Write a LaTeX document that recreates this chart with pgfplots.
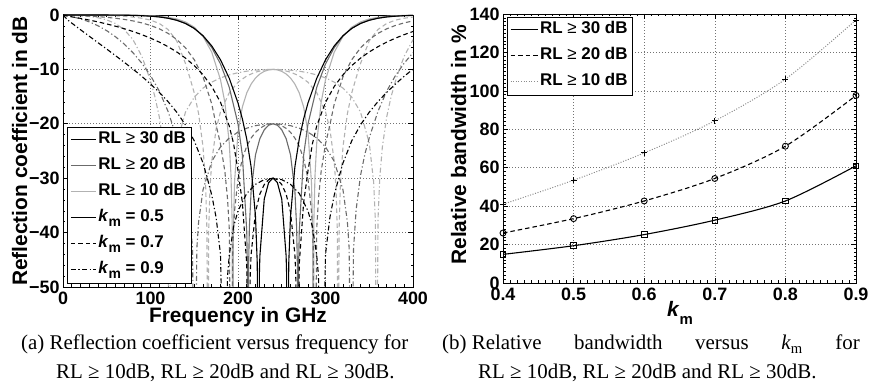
\documentclass[border=0pt]{standalone}
\usepackage{fontspec}
\setmainfont{Liberation Serif}
\newfontfamily\ar{Liberation Sans}
\usepackage{pgfplots}
\pgfplotsset{compat=1.18}
\definecolor{dg}{gray}{0.42}
\definecolor{lg}{gray}{0.70}
\definecolor{dotg}{gray}{0.55}
\pgfplotsset{
  mstyle/.style={
    scale only axis,
    axis line style={line width=0.8bp},
    tick align=inside, major tick length=5bp, minor tick length=2.5bp,
    every tick/.style={black,line width=0.6bp},
    grid=major,
    grid style={black!55, line width=0.6bp, dash pattern=on 1bp off 2bp},
    /pgf/number format/assume math mode=true,
    tick label style={font=\ar\bfseries\fontsize{18}{20}\selectfont},
    xticklabel style={yshift=-1bp},
    legend cell align=left,
    legend style={font=\ar\bfseries\fontsize{17}{19}\selectfont, draw=black,
      inner sep=3bp, row sep=6bp,
      nodes={text height=12bp, text depth=4bp, inner sep=2bp}},
  },
  sol/.style={line width=1.1bp, solid},
  das/.style={line width=1.1bp, dash pattern=on 4.5bp off 3bp},
  ddt/.style={line width=1.1bp, dash pattern=on 5bp off 2.5bp on 1.2bp off 2.5bp},
}
\newcommand{\km}{\textit{k}\raisebox{-5bp}{\fontsize{14}{14}\selectfont m}}
\begin{document}
\begin{tikzpicture}
\path[use as bounding box] (0bp,0bp) rectangle (872bp,392bp);
% ---------------- left axis ----------------
\begin{axis}[mstyle, at={(63bp,105bp)}, anchor=south west,
  width=350bp, height=272bp,
  xmin=0, xmax=400, ymin=-50, ymax=0,
  xtick={0,100,200,300,400}, xticklabels={0,100,200,300,400},
  ytick={-50,-40,-30,-20,-10,0},
  yticklabels={−50,−40,−30,−20,−10,0},
  minor x tick num=9, minor y tick num=4,
  legend image code/.code={\draw[#1] (0bp,0bp) -- (25bp,0bp);},
  legend style={at={(0.012,0.015)}, anchor=south west}]
\addlegendimage{sol, black}\addlegendentry{RL {\mdseries ≥} 30 dB}
\addlegendimage{sol, dg}\addlegendentry{RL {\mdseries ≥} 20 dB}
\addlegendimage{sol, lg}\addlegendentry{RL {\mdseries ≥} 10 dB}
\addlegendimage{sol, black}\addlegendentry{\km\ = 0.5}
\addlegendimage{das, black}\addlegendentry{\km\ = 0.7}
\addlegendimage{ddt, black}\addlegendentry{\km\ = 0.9}
% light gray, km=0.9 (dash-dot)
\addplot[ddt, lg, forget plot] coordinates {(0,0) (5,-0.021) (10,-0.046) (20,-0.126) (30,-0.265) (40,-0.502) (50,-0.90) (60,-1.571) (70,-2.689) (80,-4.54) (90,-7.56) (95,-9.76) (100,-12.14) (105,-14.98) (110,-18.70) (115,-24.22) (118,-29.95) (120,-37.6) (121.5,-80) (123,-37.8) (125,-30.66) (130,-23.52) (140,-17.84) (150,-15.10) (160,-13.44) (170,-12.34) (180,-11.56) (190,-11.01) (200,-10.61) (210,-10.33) (220,-10.14) (230,-10.04) (240,-10.0)
 (250,-10.04) (260,-10.14) (270,-10.33) (280,-10.61) (290,-11.01) (300,-11.56) (310,-12.34) (320,-13.44) (330,-15.10) (340,-17.84) (350,-23.52) (355,-30.66) (357,-37.8) (358.5,-80) (360,-37.6) (362,-29.95) (365,-24.22) (370,-18.70) (375,-14.98) (380,-12.14) (385,-9.76) (390,-7.56) (400,-4.54)};
% light gray, km=0.7 (dashed)
\addplot[das, lg, forget plot] coordinates {(0,0) (5,-0.004) (10,-0.009) (20,-0.021) (30,-0.039) (40,-0.065) (50,-0.103) (60,-0.16) (70,-0.246) (80,-0.379) (90,-0.589) (100,-0.941) (110,-1.552) (120,-2.66) (130,-4.76) (140,-8.93) (145,-11.54) (150,-14.33) (155,-18.15) (160,-24.19) (163,-31.3) (164.5,-39.6) (165.5,-80) (166.5,-39.6) (168,-31.8) (170,-26.93) (175,-20.95) (180,-17.79) (190,-14.29) (200,-12.36) (210,-11.20) (220,-10.50) (230,-10.12) (240,-10.0)
 (250,-10.12) (260,-10.50) (270,-11.20) (280,-12.36) (290,-14.29) (300,-17.79) (305,-20.95) (310,-26.93) (312,-31.8) (313.5,-39.6) (314.5,-80) (315.5,-39.6) (317,-31.3) (320,-24.19) (325,-18.15) (330,-14.33) (335,-11.54) (340,-8.93) (350,-4.76) (360,-2.66) (370,-1.552) (380,-0.941) (390,-0.589) (400,-0.379)};
% light gray, km=0.5 (solid)
\addplot[sol, lg, forget plot] coordinates {(0,0) (30,-0.001) (40,-0.002) (50,-0.005) (60,-0.011) (70,-0.022) (80,-0.042) (90,-0.077) (100,-0.138) (110,-0.241) (120,-0.419) (130,-0.729) (140,-1.274) (150,-2.24) (160,-3.92) (170,-6.83) (180,-11.90) (185,-16.08) (190,-23.47) (192,-29.5) (193.3,-38.0) (194.1,-80) (194.8,-39.6) (196,-30.9) (200,-21.55) (205,-16.90) (210,-14.32) (215,-12.69) (220,-11.59) (225,-10.84) (230,-10.36) (235,-10.09) (240,-10.0)
 (245,-10.09) (250,-10.36) (255,-10.84) (260,-11.59) (265,-12.69) (270,-14.32) (275,-16.90) (280,-21.55) (284,-30.9) (285.2,-39.6) (285.9,-80) (286.7,-38.0) (288,-29.5) (290,-23.47) (295,-16.08) (300,-11.90) (310,-6.83) (320,-3.92) (330,-2.24) (340,-1.274) (350,-0.729) (360,-0.419) (370,-0.241) (380,-0.138) (390,-0.077) (400,-0.042)};
% dark gray, km=0.9 (dash-dot)
\addplot[ddt, dg, forget plot] coordinates {(0,0) (5,-0.153) (10,-0.307) (20,-0.710) (30,-1.261) (40,-1.98) (50,-2.887) (60,-4.00) (70,-5.34) (80,-6.94) (90,-8.84) (100,-11.13) (110,-13.97) (120,-17.70) (125,-20.12) (130,-22.59) (135,-25.57) (140,-29.52) (145,-35.8) (148,-43.1) (150.4,-80) (153,-42.8) (155,-38.0) (160,-32.16) (170,-26.91) (180,-24.24) (190,-22.61) (200,-21.52) (210,-20.81) (220,-20.34) (230,-20.08) (240,-20.0)
 (250,-20.08) (260,-20.34) (270,-20.81) (280,-21.52) (290,-22.61) (300,-24.24) (310,-26.91) (320,-32.16) (325,-38.0) (327,-42.8) (329.6,-80) (332,-43.1) (335,-35.8) (340,-29.52) (345,-25.57) (350,-22.59) (355,-20.12) (360,-17.70) (370,-13.97) (380,-11.13) (390,-8.84) (400,-6.94)};
% dark gray, km=0.7 (dashed)
\addplot[das, dg, forget plot] coordinates {(0,0) (5,-0.031) (10,-0.057) (20,-0.12) (30,-0.20) (40,-0.304) (50,-0.432) (60,-0.598) (70,-0.811) (80,-1.087) (90,-1.445) (100,-1.915) (110,-2.54) (120,-3.37) (130,-4.50) (140,-6.05) (150,-8.22) (160,-11.35) (170,-16.35) (175,-20.22) (180,-23.71) (185,-28.77) (188,-33.7) (190,-39.2) (192.3,-80) (194,-42.7) (196,-36.1) (200,-30.14) (205,-26.40) (210,-24.13) (215,-22.62) (220,-21.57) (225,-20.84) (230,-20.36) (235,-20.09) (240,-20.0)
 (245,-20.09) (250,-20.36) (255,-20.84) (260,-21.57) (265,-22.62) (270,-24.13) (275,-26.40) (280,-30.14) (284,-36.1) (286,-42.7) (287.7,-80) (290,-39.2) (292,-33.7) (295,-28.77) (300,-23.71) (305,-20.22) (310,-16.35) (320,-11.35) (330,-8.22) (340,-6.05) (350,-4.50) (360,-3.37) (370,-2.54) (380,-1.915) (390,-1.445) (400,-1.087)};
% dark gray, km=0.5 (solid)
\addplot[sol, dg, forget plot] coordinates {(0,0) (20,0) (30,-0.001) (40,-0.003) (50,-0.007) (60,-0.017) (70,-0.033) (80,-0.062) (90,-0.111) (100,-0.196) (110,-0.334) (120,-0.559) (130,-0.925) (140,-1.517) (150,-2.45) (160,-3.88) (170,-5.99) (180,-9.00) (190,-13.28) (200,-20.01) (205,-25.76) (210,-39.8) (210.7,-46.0) (211.4,-80) (212,-47.1) (213,-38.99) (215,-32.32) (220,-25.70) (225,-22.71) (230,-21.10) (235,-20.26) (240,-20.0)
 (245,-20.26) (250,-21.10) (255,-22.71) (260,-25.70) (265,-32.32) (267,-38.99) (268,-47.1) (268.6,-80) (269.3,-46.0) (270,-39.8) (275,-25.76) (280,-20.01) (290,-13.28) (300,-9.00) (310,-5.99) (320,-3.88) (330,-2.45) (340,-1.517) (350,-0.925) (360,-0.559) (370,-0.334) (380,-0.196) (390,-0.111) (400,-0.062)};
% black, km=0.9 (dash-dot)
\addplot[ddt, black, forget plot] coordinates {(0,0) (5,-0.862) (10,-1.49) (20,-2.71) (30,-3.90) (40,-5.09) (50,-6.27) (60,-7.47) (70,-8.69) (80,-9.95) (90,-11.26) (100,-12.68) (110,-14.21) (120,-15.91) (130,-17.87) (140,-20.20) (150,-23.13) (160,-27.19) (165,-30.04) (170,-33.11) (175,-37.24) (180,-44.0) (184.7,-80) (188,-48.1) (190,-44.2) (195,-38.9) (200,-36.0) (210,-32.81) (220,-31.12) (230,-30.26) (240,-30)
 (250,-30.26) (260,-31.12) (270,-32.81) (280,-36.0) (285,-38.9) (290,-44.2) (292,-48.1) (295.3,-80) (300,-44.0) (305,-37.24) (310,-33.11) (315,-30.04) (320,-27.19) (330,-23.13) (340,-20.20) (350,-17.87) (360,-15.91) (370,-14.21) (380,-12.68) (390,-11.26) (400,-9.95)};
% black, km=0.7 (dashed)
\addplot[das, black, forget plot] coordinates {(0,0) (5,-0.195) (10,-0.334) (20,-0.62) (30,-0.93) (40,-1.27) (50,-1.645) (60,-2.06) (70,-2.52) (80,-3.03) (90,-3.61) (100,-4.25) (110,-4.98) (120,-5.82) (130,-6.79) (140,-7.93) (150,-9.30) (160,-10.99) (170,-13.14) (180,-16.05) (190,-20.39) (195,-23.68) (200,-28.64) (205,-34.49) (210,-45.8) (212.1,-80) (214,-47.5) (215,-44.0) (220,-36.2) (225,-32.9) (230,-31.17) (235,-30.28) (240,-30)
 (245,-30.28) (250,-31.17) (255,-32.9) (260,-36.2) (265,-44.0) (266,-47.5) (267.9,-80) (270,-45.8) (275,-34.49) (280,-28.64) (285,-23.68) (290,-20.39) (300,-16.05) (310,-13.14) (320,-10.99) (330,-9.30) (340,-7.93) (350,-6.79) (360,-5.82) (370,-4.98) (380,-4.25) (390,-3.61) (400,-3.03)};
% black, km=0.5 (solid)
\addplot[sol, black, forget plot] coordinates {(0,0) (20,0) (30,-0.001) (40,-0.003) (50,-0.008) (60,-0.019) (70,-0.037) (80,-0.069) (90,-0.124) (100,-0.215) (110,-0.362) (120,-0.599) (130,-0.975) (140,-1.565) (150,-2.467) (160,-3.80) (170,-5.68) (180,-8.24) (190,-11.63) (200,-16.17) (205,-19.10) (210,-22.81) (215,-27.93) (220,-37.05) (222,-45.6) (223.3,-80) (224.5,-47.3) (225,-44.3) (230,-33.84) (235,-30.81) (240,-30)
 (245,-30.81) (250,-33.84) (255,-44.3) (255.5,-47.3) (256.7,-80) (258,-45.6) (260,-37.05) (265,-27.93) (270,-22.81) (275,-19.10) (280,-16.17) (290,-11.63) (300,-8.24) (310,-5.68) (320,-3.80) (330,-2.467) (340,-1.565) (350,-0.975) (360,-0.599) (370,-0.362) (380,-0.215) (390,-0.124) (400,-0.069)};
\end{axis}
% ---------------- right axis ----------------
\begin{axis}[mstyle, at={(503bp,109bp)}, anchor=south west,
  width=353bp, height=269bp,
  xmin=0.4, xmax=0.9, ymin=0, ymax=140,
  xtick={0.4,0.5,0.6,0.7,0.8,0.9}, xticklabels={0.4,0.5,0.6,0.7,0.8,0.9},
  ytick={0,20,40,60,80,100,120,140}, yticklabels={0,20,40,60,80,100,120,140},
  minor x tick num=9, minor y tick num=9,
  legend image code/.code={\draw[#1] (0bp,0bp) -- (27bp,0bp);},
  legend style={at={(0.011,0.99)}, anchor=north west}]
\addlegendimage{line width=1.1bp, black, solid}\addlegendentry{RL {\mdseries ≥} 30 dB}
\addlegendimage{line width=1.1bp, black, dash pattern=on 4.5bp off 3bp}\addlegendentry{RL {\mdseries ≥} 20 dB}
\addlegendimage{line width=1bp, dotg, dash pattern=on 1bp off 1.6bp}\addlegendentry{RL {\mdseries ≥} 10 dB}
\addplot[line width=1bp, dotg, dash pattern=on 1bp off 1.6bp, smooth, forget plot] coordinates {(0.4,41.0) (0.5,53.5) (0.6,67.7) (0.7,84.4) (0.8,106.1) (0.9,136.9)};
\addplot[only marks, mark=+, mark size=3bp, mark options={black, line width=0.9bp}, forget plot] coordinates {(0.4,41.0) (0.5,53.5) (0.6,67.7) (0.7,84.4) (0.8,106.1) (0.9,136.9)};
\addplot[line width=1.1bp, black, dash pattern=on 4.5bp off 3bp, smooth, mark=o, mark size=3bp, mark options={solid, line width=0.9bp}, forget plot] coordinates {(0.4,26.0) (0.5,33.5) (0.6,42.7) (0.7,54.4) (0.8,71.2) (0.9,97.6)};
\addplot[line width=1.1bp, black, solid, smooth, mark=square, mark size=2.8bp, mark options={solid, line width=0.9bp}, forget plot] coordinates {(0.4,14.9) (0.5,19.4) (0.6,25.2) (0.7,32.7) (0.8,42.7) (0.9,61.0)};
\end{axis}
% ---------------- axis labels ----------------
\node[rotate=90, anchor=base, font=\ar\bfseries\fontsize{21}{23}\selectfont] at (27bp,241bp) {Reflection coefficient in dB};
\node[anchor=base, font=\ar\bfseries\fontsize{21}{23}\selectfont] at (238bp,69bp) {Frequency in GHz};
\node[rotate=90, anchor=base, font=\ar\bfseries\fontsize{21}{23}\selectfont] at (466bp,247bp) {Relative bandwidth in \%};
\node[anchor=base, font=\ar\bfseries\fontsize{21}{23}\selectfont] at (680bp,75bp) {\textit{k}\raisebox{-8bp}{\fontsize{15}{15}\selectfont m}};
% ---------------- captions ----------------
\node[anchor=base west, inner sep=0pt, font=\fontsize{21}{24}\selectfont] at (21bp,42bp) {(a) Reflection coefficient versus frequency for};
\node[anchor=base west, inner sep=0pt, font=\fontsize{21}{24}\selectfont] at (56bp,14bp) {RL ≥ 10dB, RL ≥ 20dB and RL ≥ 30dB.};
\node[anchor=base west, inner sep=0pt, font=\fontsize{21}{24}\selectfont] at (442bp,42bp) {(b) \makebox[388bp][s]{Relative bandwidth versus \textit{k}\textsubscript{m} for}};
\node[anchor=base west, inner sep=0pt, font=\fontsize{21}{24}\selectfont] at (478bp,14bp) {RL ≥ 10dB, RL ≥ 20dB and RL ≥ 30dB.};
\end{tikzpicture}
\end{document}
